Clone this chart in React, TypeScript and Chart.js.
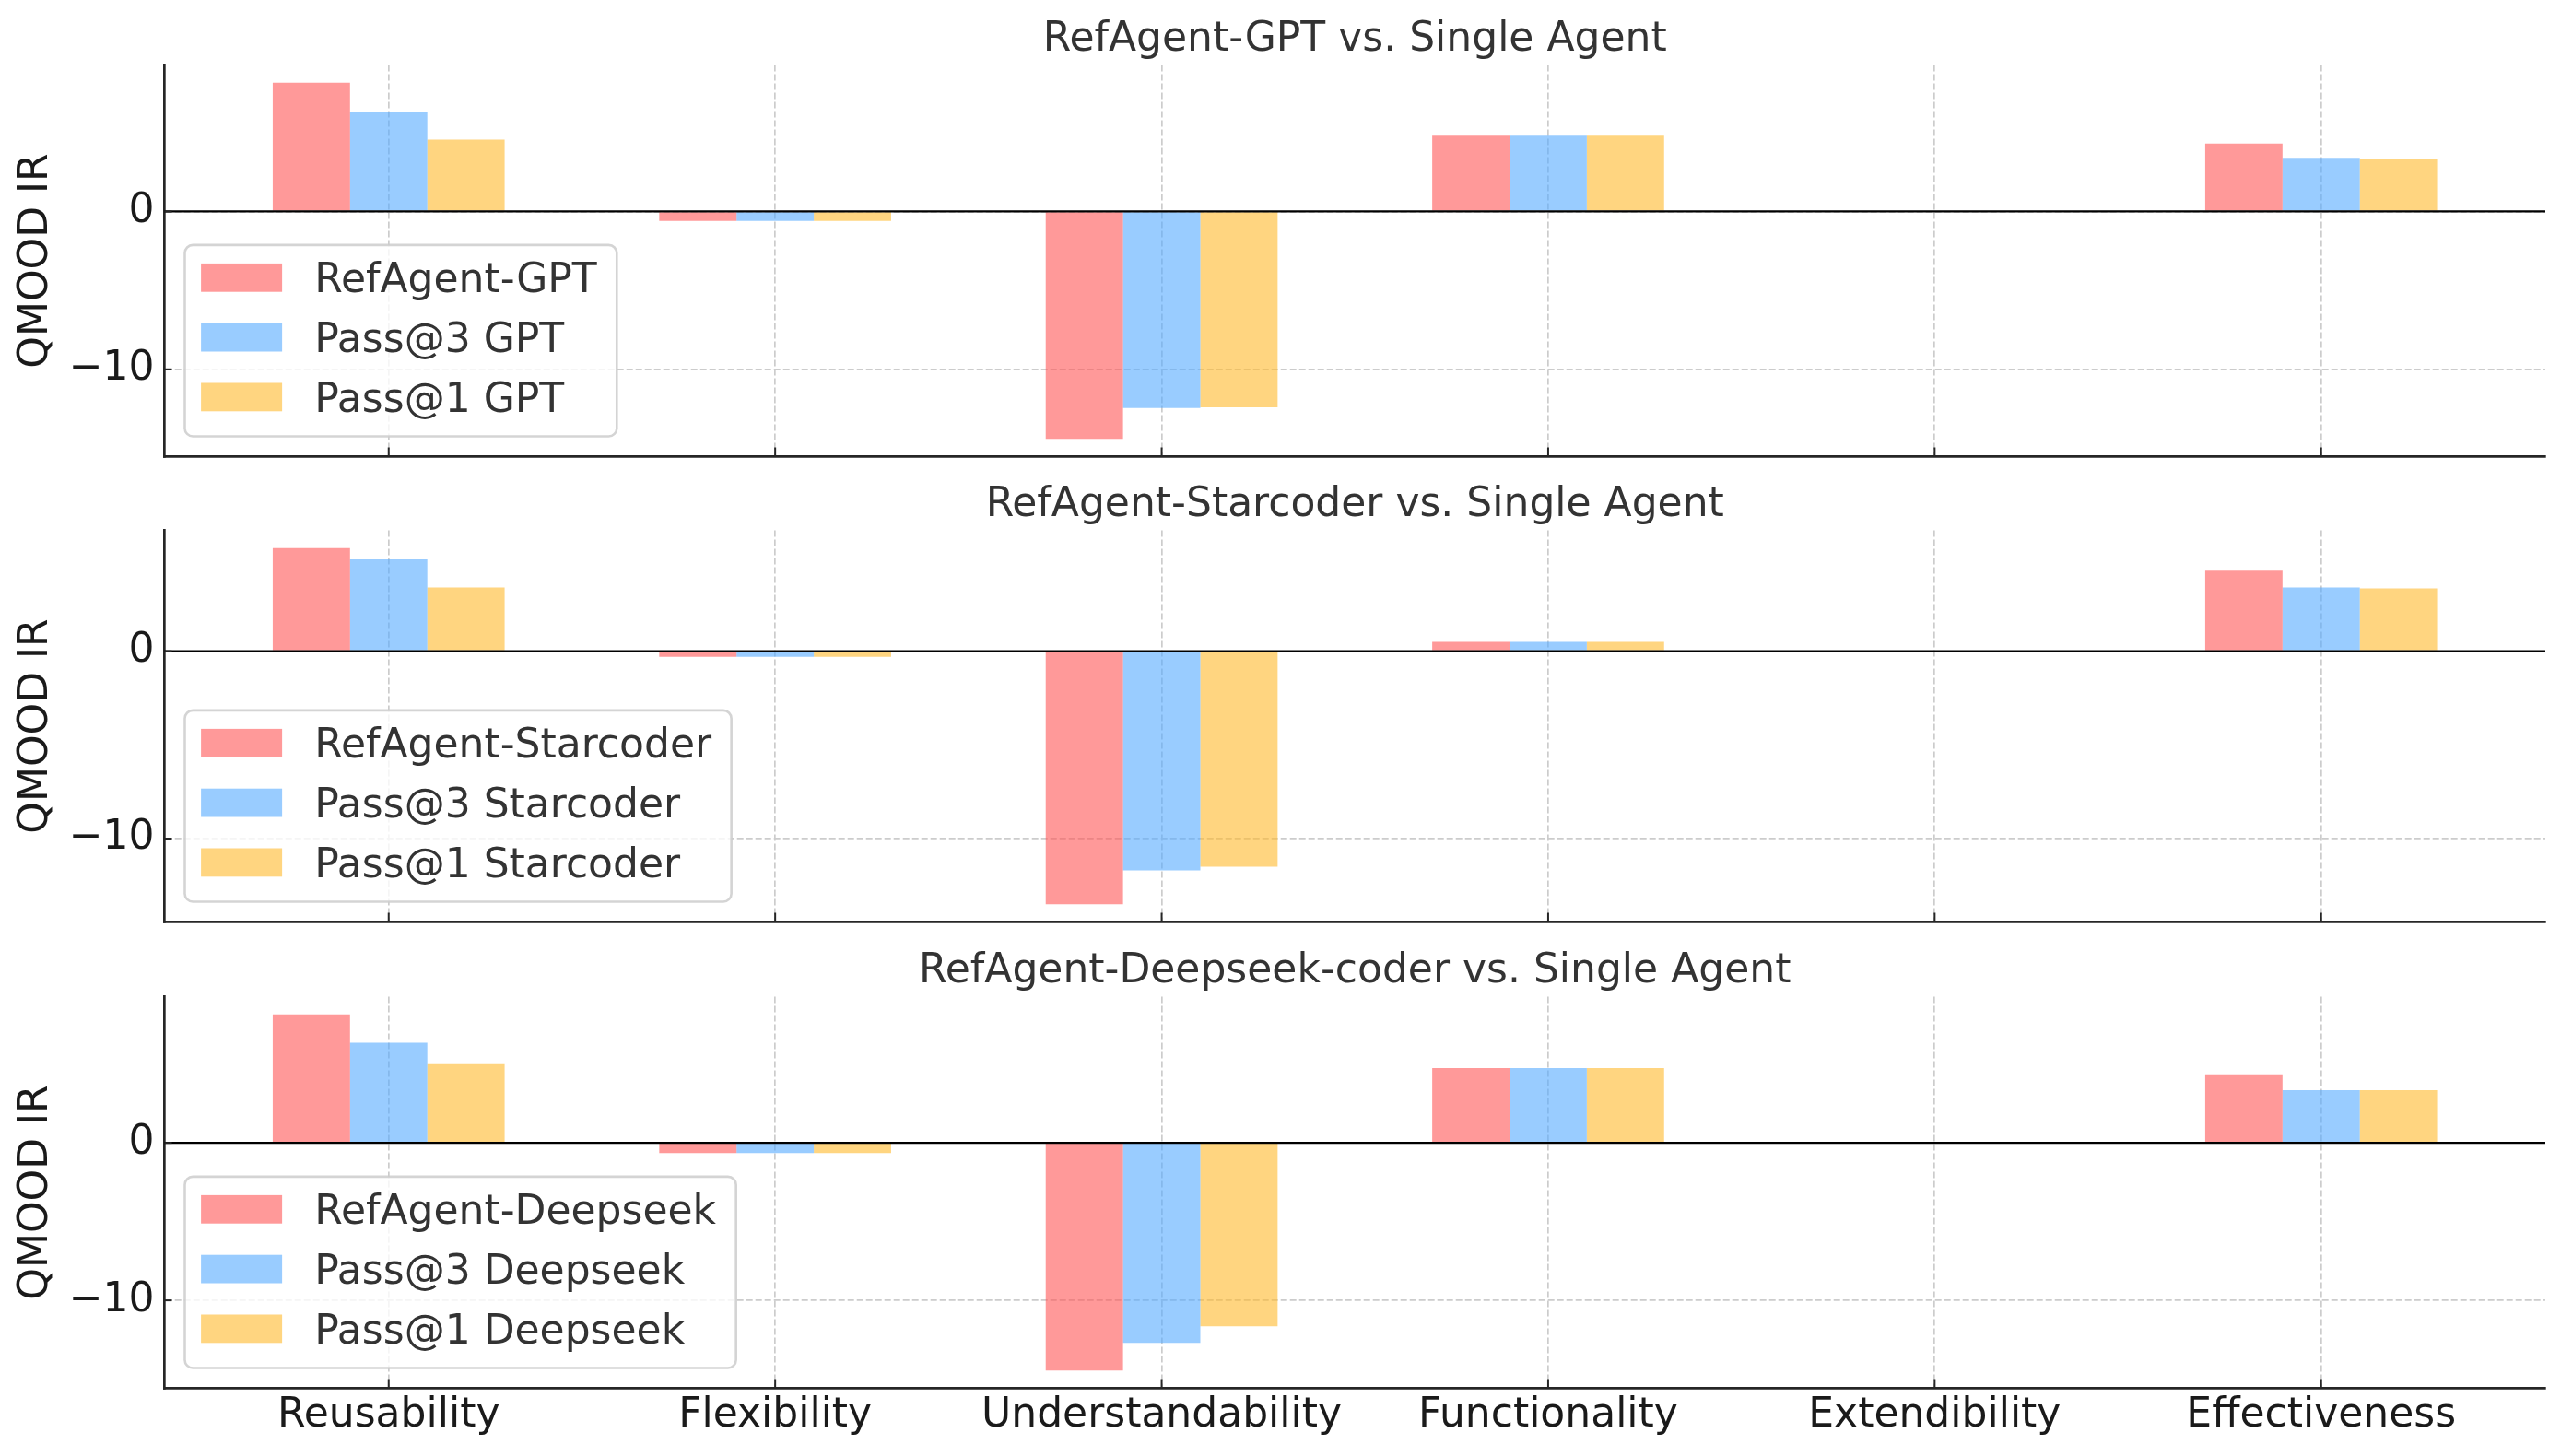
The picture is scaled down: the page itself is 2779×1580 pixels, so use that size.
import React, { useEffect, useRef } from 'react';
import { Chart, registerables } from 'chart.js';

Chart.register(...registerables);

const categories = ['Reusability', 'Flexibility', 'Understandability', 'Functionality', 'Extendibility', 'Effectiveness'];

const gptRefAgent = [8.15, -0.6, -14.4, 4.8, 0, 4.3];
const gptPass3 = [6.3, -0.6, -12.45, 4.8, 0, 3.4];
const gptPass1 = [4.55, -0.6, -12.4, 4.8, 0, 3.3];

const starRefAgent = [5.5, -0.3, -13.5, 0.5, 0, 4.3];
const starPass3 = [4.9, -0.3, -11.7, 0.5, 0, 3.4];
const starPass1 = [3.4, -0.3, -11.5, 0.5, 0, 3.35];

const deepRefAgent = [8.15, -0.65, -14.45, 4.75, 0, 4.3];
const deepPass3 = [6.35, -0.65, -12.7, 4.75, 0, 3.35];
const deepPass1 = [5.0, -0.65, -11.65, 4.75, 0, 3.35];

const panelTitles = [
  'RefAgent-GPT vs. Single Agent',
  'RefAgent-Starcoder vs. Single Agent',
  'RefAgent-Deepseek-coder vs. Single Agent',
];
const gptLabels = ['RefAgent-GPT', 'Pass@3 GPT', 'Pass@1 GPT'];
const starLabels = ['RefAgent-Starcoder', 'Pass@3 Starcoder', 'Pass@1 Starcoder'];
const deepLabels = ['RefAgent-Deepseek', 'Pass@3 Deepseek', 'Pass@1 Deepseek'];
const yTickValues = [-10, 0];
const yAxisLabel = 'QMOOD IR';

const COLORS = ['rgba(255,85,85,0.6)', 'rgba(85,170,255,0.6)', 'rgba(255,185,43,0.6)'];
const FAMILY = '"DejaVu Sans", "Liberation Sans", sans-serif';
const FS = 44;
const W = 2779;

const overlayPlugin = {
  id: 'overlay',
  afterDatasetsDraw(chart: any) {
    const { ctx, chartArea } = chart;
    const y0 = chart.scales.y.getPixelForValue(0);
    ctx.save();
    ctx.strokeStyle = '#000000';
    ctx.lineWidth = 2.2;
    ctx.beginPath();
    ctx.moveTo(chartArea.left, y0);
    ctx.lineTo(chartArea.right, y0);
    ctx.stroke();
    ctx.restore();
  },
  afterDraw(chart: any, _args: any, opts: any) {
    const { ctx, chartArea } = chart;
    const xs = chart.scales.x;
    const ys = chart.scales.y;
    ctx.save();
    ctx.strokeStyle = '#262626';
    ctx.lineWidth = 2;
    categories.forEach((_c, i) => {
      const px = xs.getPixelForValue(i);
      ctx.beginPath();
      ctx.moveTo(px, chartArea.bottom);
      ctx.lineTo(px, chartArea.bottom - 10);
      ctx.stroke();
    });
    yTickValues.forEach((v) => {
      const py = ys.getPixelForValue(v);
      ctx.beginPath();
      ctx.moveTo(chartArea.left, py);
      ctx.lineTo(chartArea.left + 8, py);
      ctx.stroke();
    });
    ctx.restore();

    // legend (lower left, inside axes)
    const labels: string[] = opts.labels || [];
    ctx.save();
    ctx.font = `${FS}px ${FAMILY}`;
    const tw = Math.max(...labels.map((l) => ctx.measureText(l).width));
    const pad = 17.6, handle = 88, gap = 35.2, rowH = 42.8, spacing = 22;
    const w = pad + handle + gap + tw + pad + 4;
    const h = pad * 2 + rowH * 3 + spacing * 2;
    const x0 = chartArea.left + 22;
    const y0 = chartArea.bottom - 22 - h;
    const r = 8.8;
    ctx.beginPath();
    ctx.moveTo(x0 + r, y0);
    ctx.lineTo(x0 + w - r, y0);
    ctx.arcTo(x0 + w, y0, x0 + w, y0 + r, r);
    ctx.lineTo(x0 + w, y0 + h - r);
    ctx.arcTo(x0 + w, y0 + h, x0 + w - r, y0 + h, r);
    ctx.lineTo(x0 + r, y0 + h);
    ctx.arcTo(x0, y0 + h, x0, y0 + h - r, r);
    ctx.lineTo(x0, y0 + r);
    ctx.arcTo(x0, y0, x0 + r, y0, r);
    ctx.closePath();
    ctx.fillStyle = 'rgba(255,255,255,0.8)';
    ctx.fill();
    ctx.strokeStyle = 'rgba(204,204,204,0.85)';
    ctx.lineWidth = 2.6;
    ctx.stroke();
    labels.forEach((l, k) => {
      const center = y0 + 35.4 + k * (rowH + spacing);
      ctx.fillStyle = COLORS[k];
      ctx.fillRect(x0 + pad, center - 15.4, handle, 30.8);
      ctx.fillStyle = '#333333';
      ctx.textAlign = 'left';
      ctx.textBaseline = 'alphabetic';
      ctx.fillText(l, x0 + pad + handle + gap, center + 16);
    });
    ctx.restore();
  },
};

type PanelProps = {
  top: number;
  height: number;
  title: string;
  series: number[][];
  labels: string[];
  showX: boolean;
};

function Panel({ top, height, title, series, labels, showX }: PanelProps) {
  const ref = useRef<HTMLCanvasElement>(null);
  useEffect(() => {
    if (!ref.current) return;
    const all = series.flat().concat([0]);
    const lo = Math.min(...all);
    const hi = Math.max(...all);
    const m = (hi - lo) * 0.05;
    const chartTop = 70.5;
    const chartBottom = 495.5;
    const titleTopPad = 16.8;
    const font = { family: FAMILY, size: FS, weight: 'normal' as const, lineHeight: 1.2 };
    const chart = new Chart(ref.current, {
      type: 'bar',
      data: {
        datasets: series.map((s, k) => ({
          label: labels[k],
          data: s.map((v, i) => ({ x: i, y: v })),
          backgroundColor: COLORS[k],
          borderWidth: 0,
          categoryPercentage: 0.6,
          barPercentage: 1.0,
        })),
      },
      options: {
        responsive: false,
        animation: false,
        events: [],
        layout: {
          autoPadding: false,
          padding: { left: 0, right: 17, top: 0, bottom: showX ? 0 : height - chartBottom },
        },
        plugins: {
          legend: { display: false },
          tooltip: { enabled: false },
          title: {
            display: true,
            fullSize: false,
            text: title,
            color: '#333333',
            font,
            padding: { top: titleTopPad, bottom: chartTop - titleTopPad - FS * 1.2 },
          },
          overlay: { labels },
        } as any,
        scales: {
          x: {
            type: 'linear',
            min: -0.58,
            max: 5.58,
            bounds: 'data',
            offset: false,
            afterBuildTicks: (ax: any) => {
              ax.ticks = categories.map((_c, i) => ({ value: i }));
            },
            afterFit: (ax: any) => {
              ax.height = showX ? height - chartBottom : 0;
              ax.paddingLeft = 0;
              ax.paddingRight = 0;
              ax.paddingTop = 0;
              ax.paddingBottom = 0;
            },
            ticks: {
              display: showX,
              autoSkip: false,
              maxRotation: 0,
              padding: 4,
              color: '#1a1a1a',
              font,
              callback: (v: any) => categories[Math.round(Number(v))] ?? '',
            },
            grid: { display: true, drawTicks: false, color: '#cccccc', lineWidth: 1.7, offset: false },
            border: { display: true, color: '#262626', width: 2.7, dash: [7, 3] },
          },
          y: {
            type: 'linear',
            min: lo - m,
            max: hi + m,
            bounds: 'data',
            afterBuildTicks: (ax: any) => {
              ax.ticks = yTickValues.map((v) => ({ value: v }));
            },
            afterFit: (ax: any) => {
              ax.width = 178.5;
              ax.paddingLeft = 0;
              ax.paddingRight = 0;
              ax.paddingTop = 0;
              ax.paddingBottom = 0;
            },
            ticks: {
              padding: 11,
              color: '#1a1a1a',
              font,
              callback: (v: any) => (Number(v) < 0 ? '\u2212' + Math.abs(Number(v)) : String(v)),
            },
            grid: { drawTicks: false, color: '#cccccc', lineWidth: 1.7 },
            border: { display: true, color: '#262626', width: 2.7, dash: [7, 3] },
            title: {
              display: true,
              text: yAxisLabel,
              color: '#1a1a1a',
              font,
              padding: { top: 13.6, bottom: 0 },
            },
          },
        },
      } as any,
      plugins: [overlayPlugin],
    });
    return () => chart.destroy();
  }, []);
  return (
    <canvas
      ref={ref}
      width={W}
      height={height}
      style={{ position: 'absolute', left: 0, top, width: W, height, display: 'block' }}
    />
  );
}

export default function App() {
  return (
    <div
      style={{
        position: 'fixed',
        left: 0,
        top: 0,
        width: W,
        height: 1580,
        background: '#ffffff',
        overflow: 'hidden',
      }}
    >
      <Panel top={0} height={505} title={panelTitles[0]} series={[gptRefAgent, gptPass3, gptPass1]} labels={gptLabels} showX={false} />
      <Panel top={505} height={506} title={panelTitles[1]} series={[starRefAgent, starPass3, starPass1]} labels={starLabels} showX={false} />
      <Panel top={1011} height={569} title={panelTitles[2]} series={[deepRefAgent, deepPass3, deepPass1]} labels={deepLabels} showX={true} />
    </div>
  );
}
